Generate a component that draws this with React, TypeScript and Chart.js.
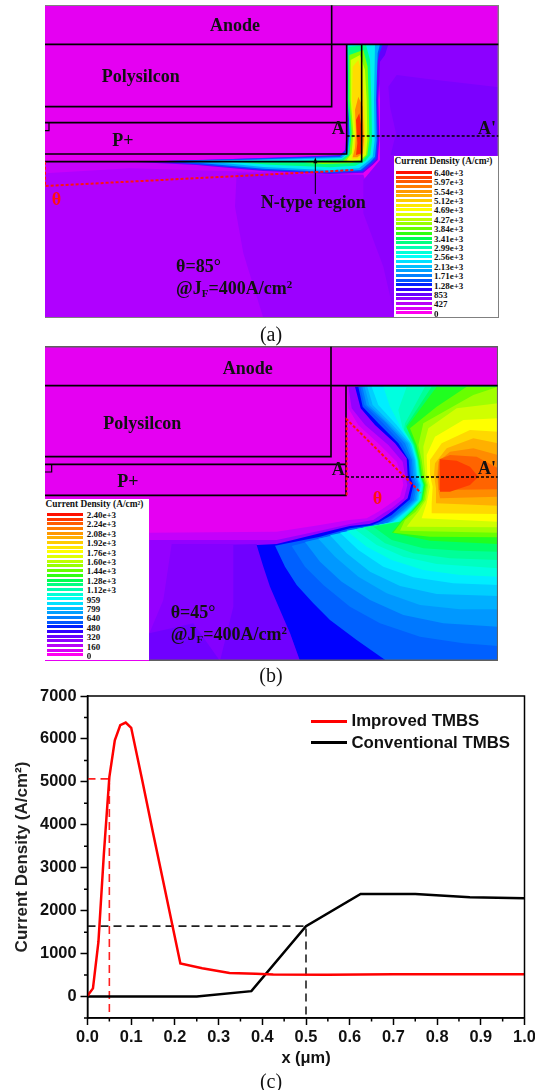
import React, { useEffect, useRef } from "react";
import { Chart, registerables } from "chart.js";

Chart.register(...registerables);

type P = [number, number];

/* ---------- panel (c): line chart data ---------- */
const improvedX = [0, 0.0125, 0.025, 0.0375, 0.05, 0.0625, 0.075, 0.0875, 0.1, 0.125, 0.15, 0.175, 0.2125, 0.2625, 0.325, 0.385, 0.425, 0.55, 0.7, 1.0];
const improvedY = [20, 190, 1270, 3330, 5110, 5970, 6320, 6380, 6260, 5050, 3810, 2600, 770, 660, 550, 530, 515, 505, 520, 520];
const conventionalX = [0, 0.25, 0.375, 0.5, 0.625, 0.75, 0.875, 1.0];
const conventionalY = [0, 0, 125, 1640, 2390, 2390, 2310, 2290];
const redGuideX = [0, 0.05, 0.05];
const redGuideY = [5070, 5070, -500];
const blackGuideX = [0, 0.5, 0.5];
const blackGuideY = [1640, 1640, -500];
const yMajor = [0, 1000, 2000, 3000, 4000, 5000, 6000, 7000];
const yMinor = [-500, 500, 1500, 2500, 3500, 4500, 5500, 6500];
const xMajor = [0, 0.1, 0.2, 0.3, 0.4, 0.5, 0.6, 0.7, 0.8, 0.9, 1.0];
const xMinor = [0.05, 0.15, 0.25, 0.35, 0.45, 0.55, 0.65, 0.75, 0.85, 0.95];

/* ---------- legends ---------- */
const legendColors = ["#ff1000", "#ff3800", "#ff5c00", "#ff7c00", "#ff9800", "#ffb000", "#ffcc00", "#ffe800", "#ffff00", "#e0ff00", "#c0ff00", "#98ff00", "#68ff00", "#30ff10", "#00ff50", "#00ff80", "#00ffb0", "#00ffd8", "#00fff8", "#00e0ff", "#00c0ff", "#00a0ff", "#0080ff", "#0058ff", "#0020ff", "#3000ff", "#6800ff", "#9000ff", "#b800f8", "#d800f8", "#ff00f0"];
const legendALabels = ["6.40e+3", "5.97e+3", "5.54e+3", "5.12e+3", "4.69e+3", "4.27e+3", "3.84e+3", "3.41e+3", "2.99e+3", "2.56e+3", "2.13e+3", "1.71e+3", "1.28e+3", "853", "427", "0"];
const legendBLabels = ["2.40e+3", "2.24e+3", "2.08e+3", "1.92e+3", "1.76e+3", "1.60e+3", "1.44e+3", "1.28e+3", "1.12e+3", "959", "799", "640", "480", "320", "160", "0"];

/* ---------- panel (a): contour polygons ---------- */
const MAG = "#e500f2";
const aBase: P[] = [[45, 15], [1407, 15], [1407, 954], [45, 954]];
const aTop: P[] = [[45, 15], [1407, 15], [1407, 133], [45, 133]];
const aLeft1: P[] = [[45, 486], [300, 486], [1000, 500], [1000, 954], [45, 954]];
const aLeft2: P[] = [[45, 520], [300, 505], [1000, 525], [1000, 954], [45, 954]];
const aMid: P[] = [[620, 520], [1000, 525], [1090, 760], [1100, 954], [700, 954], [640, 760], [615, 620]];
const aRight: P[] = [[1040, 133], [1407, 133], [1407, 954], [1095, 954], [1060, 800], [1000, 640], [1000, 540], [1050, 480], [1050, 300]];
const aPatch: P[] = [[1075, 133], [1407, 133], [1407, 262], [1200, 238], [1100, 225], [1075, 260], [1080, 320], [1098, 400], [1082, 465], [1407, 465], [1407, 954], [1407, 133]];
const a1: P[] = [[952, 133], [1075, 133], [1065, 165], [1050, 185], [1045, 300], [1048, 420], [1043, 480], [1028, 495], [1000, 518], [900, 522], [700, 513], [500, 495], [300, 485], [500, 481], [800, 470], [930, 465], [945, 450], [950, 400]];
const a2: P[] = [[952, 133], [1058, 133], [1047, 165], [1042, 190], [1040, 300], [1043, 420], [1039, 475], [1025, 490], [997, 514], [900, 519], [700, 510], [500, 493], [380, 484], [500, 480], [800, 472], [930, 468], [950, 450], [955, 400]];
const a3: P[] = [[952, 133], [1050, 133], [1043, 160], [1038, 300], [1040, 420], [1035, 470], [1020, 487], [992, 510], [900, 516], [700, 506], [520, 490], [420, 483], [600, 481], [800, 475], [930, 471], [952, 455], [958, 400]];
const a4: P[] = [[952, 133], [1035, 133], [1032, 300], [1034, 420], [1028, 470], [1012, 485], [987, 505], [900, 511], [700, 501], [560, 487], [470, 484], [800, 478], [935, 474], [955, 458], [960, 400], [955, 300]];
const a5: P[] = [[955, 140], [1008, 135], [1020, 180], [1024, 300], [1026, 420], [1021, 465], [1006, 483], [976, 497], [900, 502], [720, 494], [620, 487], [800, 483], [935, 478], [955, 462], [960, 400], [953, 300]];
const a6: P[] = [[958, 165], [1000, 150], [1013, 200], [1016, 300], [1018, 420], [1012, 465], [995, 482], [960, 490], [880, 492], [820, 488], [940, 482], [958, 466], [965, 400], [958, 300]];
const a7: P[] = [[962, 180], [990, 165], [1005, 210], [1010, 300], [1012, 420], [1008, 465], [990, 480], [960, 484], [950, 481], [965, 460], [970, 400], [962, 300]];
const a8: P[] = [[968, 200], [985, 180], [998, 230], [1003, 300], [1006, 420], [1003, 460], [985, 476], [965, 478], [970, 450], [975, 400], [966, 300]];
const a9: P[] = [[975, 330], [985, 290], [998, 320], [1002, 420], [998, 460], [982, 472], [968, 472], [975, 445], [978, 400]];
const a10: P[] = [[978, 360], [988, 340], [997, 400], [995, 460], [978, 465], [982, 430]];
const aArrow: P[] = [[856, 472], [850, 490], [862, 490]];
const aFills: [string, P[]][] = [
  [MAG, aBase], ["#c800fb", aLeft1], ["#b000ff", aLeft2], ["#9c00ff", aMid], ["#8c00ff", aRight], ["#7c00ff", aPatch], [MAG, aTop],
  ["#6000ff", a1], ["#0050ff", a2], ["#00a8ff", a3], ["#00eef0", a4], ["#00ff80", a5], ["#80ff00", a6], ["#d8ff00", a7], ["#ffdc00", a8], ["#ff9000", a9], ["#ff3000", a10], ["#000000", aArrow],
];
const aLines: [string, number, number[], P[]][] = [
  ["#808080", 1.5, [], [[45, 16], [1405, 16], [1405, 953], [45, 953]]],
  ["#000", 1.6, [], [[905, 16], [905, 320], [45, 320]]],
  ["#000", 1.6, [], [[45, 133], [1405, 133]]],
  ["#000", 1.6, [], [[950, 133], [950, 462], [45, 462]]],
  ["#000", 1.6, [], [[45, 368], [950, 368]]],
  ["#000", 1.6, [], [[45, 485], [995, 485], [995, 133]]],
  ["#000", 1.2, [], [[45, 392], [57, 392], [57, 368]]],
  ["#000", 1, [], [[856, 582], [856, 485]]],
  ["#000", 1.7, [3, 2], [[950, 408], [1405, 408]]],
  ["#ff1010", 2, [3, 2], [[45, 485], [45, 558], [975, 510]]],
];

/* ---------- panel (b): contour polygons ---------- */
const bBase: P[] = [[45, 18], [1404, 18], [1404, 963], [45, 963]];
const bF1: P[] = [[952, 140], [955, 205], [985, 255], [1050, 315], [1100, 365], [1115, 405], [1120, 435], [1110, 470], [1075, 495], [1045, 515], [1010, 535], [958, 540], [870, 555], [740, 575], [358, 578], [358, 963], [1404, 963], [1404, 140]];
const bF2: P[] = [[955, 140], [965, 205], [1005, 255], [1075, 315], [1118, 365], [1125, 405], [1132, 435], [1122, 475], [1085, 505], [1060, 520], [1030, 540], [960, 552], [870, 572], [740, 600], [358, 600], [358, 963], [1404, 963], [1404, 140]];
const bP1: P[] = [[425, 612], [680, 612], [810, 963], [358, 963], [358, 880], [400, 780]];
const bP2: P[] = [[610, 615], [680, 612], [810, 963], [570, 963], [610, 800]];
const bP3: P[] = [[358, 880], [490, 850], [570, 963], [358, 963]];
const b1: P[] = [[975, 140], [992, 205], [1035, 255], [1095, 310], [1130, 355], [1133, 405], [1143, 435], [1133, 475], [1098, 505], [1075, 522], [1045, 542], [1018, 552], [960, 558], [870, 580], [740, 612], [680, 615], [700, 680], [720, 740], [750, 810], [780, 880], [810, 963], [1404, 963], [1404, 140]];
const b2: P[] = [[985, 140], [998, 200], [1045, 250], [1105, 310], [1136, 360], [1139, 405], [1150, 435], [1140, 478], [1108, 505], [1085, 525], [1050, 545], [1025, 556], [960, 565], [870, 590], [735, 617], [765, 680], [800, 735], [850, 790], [900, 840], [980, 900], [1070, 963], [1404, 963], [1404, 140]];
const b3: P[] = [[991, 140], [1003, 195], [1055, 245], [1115, 310], [1141, 360], [1144, 405], [1155, 435], [1146, 480], [1114, 508], [1090, 530], [1055, 550], [960, 572], [785, 618], [825, 680], [880, 735], [960, 800], [1050, 850], [1170, 890], [1300, 910], [1404, 918], [1404, 140]];
const b4: P[] = [[997, 140], [1010, 195], [1065, 245], [1125, 310], [1146, 360], [1149, 405], [1160, 435], [1152, 480], [1120, 510], [1070, 550], [960, 575], [825, 606], [870, 665], [935, 725], [1020, 780], [1120, 825], [1240, 850], [1404, 860], [1404, 140]];
const b5: P[] = [[1004, 140], [1018, 195], [1075, 250], [1132, 310], [1150, 360], [1154, 405], [1165, 435], [1157, 480], [1125, 510], [1075, 548], [960, 575], [865, 596], [915, 650], [985, 710], [1070, 760], [1170, 795], [1290, 808], [1404, 808], [1404, 140]];
const b6: P[] = [[1012, 140], [1028, 195], [1088, 255], [1138, 310], [1154, 360], [1158, 405], [1168, 435], [1161, 480], [1130, 510], [1082, 548], [975, 570], [900, 586], [950, 640], [1020, 695], [1110, 738], [1220, 762], [1404, 768], [1404, 140]];
const b7: P[] = [[1025, 140], [1045, 195], [1100, 255], [1143, 310], [1157, 360], [1161, 405], [1172, 435], [1165, 480], [1134, 510], [1090, 545], [1000, 565], [930, 578], [985, 630], [1060, 680], [1150, 712], [1270, 730], [1404, 735], [1404, 140]];
const b8: P[] = [[1060, 140], [1080, 200], [1112, 260], [1146, 315], [1159, 360], [1163, 405], [1174, 435], [1167, 480], [1137, 510], [1100, 545], [950, 572], [1010, 620], [1085, 660], [1180, 690], [1290, 705], [1404, 710], [1404, 140]];
const b9: P[] = [[1130, 140], [1105, 210], [1118, 265], [1148, 315], [1161, 360], [1166, 405], [1177, 435], [1170, 480], [1140, 510], [1105, 545], [975, 568], [1040, 615], [1120, 650], [1220, 672], [1404, 685], [1404, 140]];
const b10: P[] = [[1185, 140], [1125, 250], [1122, 270], [1150, 315], [1163, 360], [1169, 405], [1180, 435], [1172, 480], [1143, 512], [1110, 545], [1000, 562], [1065, 610], [1150, 640], [1260, 655], [1404, 660], [1404, 140]];
const b11: P[] = [[1205, 140], [1128, 258], [1152, 315], [1164, 360], [1170, 405], [1181, 435], [1174, 480], [1145, 512], [1111, 545], [1030, 560], [1085, 600], [1180, 625], [1290, 632], [1404, 635], [1404, 140]];
const b12: P[] = [[1220, 140], [1130, 262], [1155, 315], [1166, 360], [1172, 405], [1182, 435], [1175, 480], [1147, 512], [1112, 545], [1085, 578], [1200, 602], [1404, 612], [1404, 140]];
const b13: P[] = [[1310, 140], [1220, 200], [1140, 265], [1160, 315], [1170, 360], [1176, 405], [1186, 435], [1178, 480], [1150, 512], [1115, 545], [1090, 578], [1200, 590], [1404, 592], [1404, 140]];
const b14: P[] = [[1404, 140], [1330, 165], [1180, 250], [1165, 315], [1175, 360], [1181, 405], [1190, 435], [1183, 480], [1157, 515], [1125, 540], [1110, 572], [1404, 578]];
const b15: P[] = [[1404, 190], [1280, 205], [1195, 265], [1180, 320], [1182, 365], [1186, 405], [1194, 435], [1188, 480], [1165, 515], [1145, 540], [1130, 560], [1404, 562]];
const b16: P[] = [[1404, 235], [1300, 240], [1215, 290], [1190, 345], [1192, 405], [1200, 440], [1190, 490], [1175, 535], [1404, 545]];
const b17: P[] = [[1404, 275], [1320, 270], [1235, 310], [1200, 360], [1200, 405], [1208, 440], [1205, 490], [1205, 520], [1404, 522]];
const b18: P[] = [[1404, 310], [1330, 295], [1250, 325], [1215, 370], [1212, 405], [1218, 445], [1218, 490], [1404, 497]];
const b19: P[] = [[1404, 345], [1330, 325], [1260, 335], [1225, 365], [1222, 405], [1225, 450], [1230, 475], [1404, 470]];
const b20: P[] = [[1404, 385], [1340, 350], [1260, 345], [1228, 358], [1225, 405], [1227, 450], [1404, 448]];
const b21: P[] = [[1230, 358], [1280, 362], [1320, 380], [1345, 410], [1320, 435], [1260, 455], [1230, 455]];
const bFills: [string, P[]][] = [
  [MAG, bBase], ["#c400fb", bF1], ["#9400ff", bF2], ["#8400ff", bP1], ["#7000ff", bP2], ["#7000ff", bP3],
  ["#0000ff", b1], ["#0060ff", b2], ["#0078ff", b3], ["#0098ff", b4], ["#00b0ff", b5], ["#00cfff", b6], ["#00eeff", b7], ["#00ffe0", b8], ["#00ffc0", b9], ["#00ff98", b10], ["#00ff68", b11], ["#20ff20", b12], ["#68ff00", b13], ["#a0ff00", b14], ["#d0ff00", b15], ["#ffff00", b16], ["#ffd800", b17], ["#ffb000", b18], ["#ff8c00", b19], ["#ff6400", b20], ["#ff3c00", b21],
];
const bLines: [string, number, number[], P[]][] = [
  ["#606060", 1.5, [], [[45, 20], [1403, 20], [1403, 961], [358, 961]]],
  ["#000", 1.6, [], [[903, 20], [903, 350], [45, 350]]],
  ["#000", 1.6, [], [[45, 137], [1403, 137]]],
  ["#000", 1.6, [], [[948, 137], [948, 466], [45, 466]]],
  ["#000", 1.6, [], [[45, 373], [948, 373]]],
  ["#000", 1.2, [], [[45, 396], [65, 396], [65, 373]]],
  ["#000", 1.7, [3, 2], [[948, 411], [1403, 411]]],
  ["#ff1010", 2, [3, 2], [[950, 466], [950, 238], [1172, 458]]],
];

/* ---------- helpers ---------- */
const toXY = (pts: P[]) => pts.map(([x, y]) => ({ x, y }));

function panelConfig(fills: [string, P[]][], lines: [string, number, number[], P[]][], xr: P, yr: P): any {
  const layers: any[] = [
    ...fills.map(([c, pts]) => ({ data: toXY(pts), fill: "shape", backgroundColor: c, borderWidth: 0, pointRadius: 0, tension: 0 })),
    ...lines.map(([c, w, dash, pts]) => ({ data: toXY(pts), fill: false, borderColor: c, borderWidth: w, borderDash: dash, pointRadius: 0, tension: 0 })),
  ];
  return {
    type: "line",
    data: { datasets: layers.reverse() },
    options: {
      animation: false,
      responsive: false,
      layout: { padding: 0 },
      plugins: { legend: { display: false }, tooltip: { enabled: false } },
      scales: {
        x: { type: "linear", display: false, min: xr[0], max: xr[1] },
        y: { type: "linear", display: false, min: yr[0], max: yr[1], reverse: true },
      },
    },
  };
}

const frameAndMinor = {
  id: "frameAndMinor",
  afterDraw(chart: any) {
    const { ctx, chartArea: a, scales } = chart;
    ctx.save();
    ctx.strokeStyle = "#000";
    ctx.lineWidth = 1.5;
    ctx.strokeRect(a.left, a.top, a.right - a.left, a.bottom - a.top);
    ctx.beginPath();
    yMinor.forEach((v) => {
      const p = scales.y.getPixelForValue(v);
      ctx.moveTo(a.left - 3.5, p);
      ctx.lineTo(a.left, p);
    });
    xMinor.forEach((v) => {
      const p = scales.x.getPixelForValue(v);
      ctx.moveTo(p, a.bottom);
      ctx.lineTo(p, a.bottom + 3.5);
    });
    ctx.stroke();
    ctx.restore();
  },
};

const SANS = '"Liberation Sans", Arial, sans-serif';
const SERIF = '"Liberation Serif", "Times New Roman", serif';

function lineConfig(): any {
  const pair = (xs: number[], ys: number[]) => xs.map((x, i) => ({ x, y: ys[i] }));
  const tickFont = { family: SANS, size: 16.4, weight: "bold" as const };
  return {
    type: "line",
    data: {
      datasets: [
        { label: "Improved TMBS", data: pair(improvedX, improvedY), borderColor: "#ff0000", borderWidth: 2.5, pointRadius: 0, tension: 0 },
        { label: "Conventional TMBS", data: pair(conventionalX, conventionalY), borderColor: "#000000", borderWidth: 2.5, pointRadius: 0, tension: 0 },
        { label: "guide red", data: pair(redGuideX, redGuideY), borderColor: "#ff2020", borderWidth: 1.6, borderDash: [8, 5], pointRadius: 0, tension: 0 },
        { label: "guide black", data: pair(blackGuideX, blackGuideY), borderColor: "#202020", borderWidth: 1.6, borderDash: [8, 5], pointRadius: 0, tension: 0 },
      ],
    },
    plugins: [frameAndMinor],
    options: {
      animation: false,
      responsive: false,
      layout: { padding: { top: 16, right: 10.5, left: 0, bottom: 0 } },
      plugins: { legend: { display: false }, tooltip: { enabled: false } },
      scales: {
        x: {
          type: "linear",
          min: 0,
          max: 1,
          afterBuildTicks: (s: any) => { s.ticks = xMajor.map((value) => ({ value })); },
          afterFit: (s: any) => { s.height = 72; s.paddingLeft = 0; s.paddingRight = 0; },
          border: { color: "#000", width: 1.5 },
          grid: { drawOnChartArea: false, tickLength: 7, tickColor: "#000", tickWidth: 1.5 },
          ticks: { font: tickFont, color: "#111", padding: 3, maxRotation: 0, autoSkip: false, callback: (v: number) => v.toFixed(1) },
          title: { display: true, text: "x (μm)", font: tickFont, color: "#111", padding: { top: 0, bottom: 22 } },
        },
        y: {
          type: "linear",
          min: -500,
          max: 7000,
          afterBuildTicks: (s: any) => { s.ticks = yMajor.map((value) => ({ value })); },
          afterFit: (s: any) => { s.width = 87.5; },
          border: { color: "#000", width: 1.5 },
          grid: { drawOnChartArea: false, tickLength: 7, tickColor: "#000", tickWidth: 1.5 },
          ticks: { font: tickFont, color: "#111", padding: 4, autoSkip: false, callback: (v: number) => String(v) },
          title: { display: true, text: "Current Density (A/cm²)", font: { family: SANS, size: 17, weight: "bold" }, color: "#222", padding: { top: 12, bottom: 0 } },
        },
      },
    },
  };
}

/* ---------- text helpers ---------- */
function T(props: { x: number; y: number; s?: number; c?: string; b?: boolean; f?: string; center?: boolean; children: React.ReactNode }) {
  const { x, y, s = 18, c = "#111", b = true, f = SERIF, center, children } = props;
  return (
    <div
      style={{
        position: "absolute",
        left: x,
        top: y,
        transform: center ? "translate(-50%,-50%)" : "translateY(-50%)",
        font: `${b ? "bold" : "normal"} ${s}px ${f}`,
        lineHeight: 1,
        color: c,
        whiteSpace: "nowrap",
      }}
    >
      {children}
    </div>
  );
}

function ColorLegend(props: { left: number; top: number; right: number; bottom: number; stripeX: number; stripeR: number; stripeTop: number; labelX: number; labelTop: number; labels: string[] }) {
  const { left, top, right, bottom, stripeX, stripeR, stripeTop, labelX, labelTop, labels } = props;
  return (
    <>
      <div style={{ position: "absolute", left, top, width: right - left, height: bottom - top, background: "#fff" }} />
      <T x={left + 0.5} y={top + 6} s={9.4}>Current Density (A/cm²)</T>
      {legendColors.map((c, i) => (
        <div key={i} style={{ position: "absolute", left: stripeX, top: stripeTop + i * 4.68, width: stripeR - stripeX, height: 3, background: c }} />
      ))}
      {labels.map((l, i) => (
        <T key={l} x={labelX} y={labelTop + i * 9.4} s={9}>{l}</T>
      ))}
    </>
  );
}

const jf = (
  <>
    @J<sub style={{ fontSize: 11, verticalAlign: "-3px", lineHeight: 0 }}>F</sub>=400A/cm<sup style={{ fontSize: 11, verticalAlign: "6px", lineHeight: 0 }}>2</sup>
  </>
);

export default function App() {
  const aRef = useRef<HTMLCanvasElement>(null);
  const bRef = useRef<HTMLCanvasElement>(null);
  const cRef = useRef<HTMLCanvasElement>(null);

  useEffect(() => {
    const charts = [
      new Chart(aRef.current!, panelConfig(aFills, aLines, [45, 1407], [15, 954])),
      new Chart(bRef.current!, panelConfig(bFills, bLines, [45, 1404], [18, 963])),
      new Chart(cRef.current!, lineConfig()),
    ];
    return () => charts.forEach((c) => c.destroy());
  }, []);

  return (
    <div style={{ position: "absolute", left: 0, top: 0, width: 535, height: 1090, background: "#fff", overflow: "hidden", filter: "blur(0.45px)" }}>
      <canvas ref={aRef} width={454} height={313} style={{ position: "absolute", left: 45, top: 5, width: 454, height: 313 }} />
      <canvas ref={bRef} width={453} height={315} style={{ position: "absolute", left: 45, top: 346, width: 453, height: 315 }} />
      <canvas ref={cRef} width={535} height={410} style={{ position: "absolute", left: 0, top: 680, width: 535, height: 410 }} />

      {/* panel a labels */}
      <T x={210} y={25}>Anode</T>
      <T x={101.7} y={75.7}>Polysilcon</T>
      <T x={112.3} y={140}>P+</T>
      <T x={331.7} y={128}>A</T>
      <T x={478} y={127.7}>A'</T>
      <T x={51.7} y={199} c="#ff1010">θ</T>
      <T x={260.7} y={201.7}>N-type region</T>
      <T x={176} y={265.7}>θ=85°</T>
      <T x={176} y={288.3}>{jf}</T>
      <ColorLegend left={394} top={156} right={498} bottom={317} stripeX={395.5} stripeR={432} stripeTop={171} labelX={434} labelTop={172.7} labels={legendALabels} />
      <T x={271} y={334} s={20} b={false} center>(a)</T>

      {/* panel b labels */}
      <T x={222.7} y={368.3}>Anode</T>
      <T x={103.3} y={422.7}>Polysilcon</T>
      <T x={117.3} y={481}>P+</T>
      <T x={331.7} y={469}>A</T>
      <T x={478} y={468.3}>A'</T>
      <T x={372.7} y={497.7} c="#ff1010">θ</T>
      <T x={170.7} y={611.7}>θ=45°</T>
      <T x={170.7} y={634.3}>{jf}</T>
      <ColorLegend left={45} top={499} right={149} bottom={660} stripeX={46.7} stripeR={83.3} stripeTop={513} labelX={86.7} labelTop={515} labels={legendBLabels} />
      <T x={271} y={675} s={20} b={false} center>(b)</T>

      {/* panel c legend and caption */}
      <div style={{ position: "absolute", left: 311, top: 720, width: 36, height: 3, background: "#ff0000" }} />
      <div style={{ position: "absolute", left: 311, top: 741, width: 36, height: 3, background: "#000" }} />
      <T x={351.5} y={721} s={16.8} f={SANS} c="#111">Improved TMBS</T>
      <T x={351.5} y={742.5} s={16.8} f={SANS} c="#111">Conventional TMBS</T>
      <T x={271} y={1081} s={20} b={false} center>(c)</T>
    </div>
  );
}
